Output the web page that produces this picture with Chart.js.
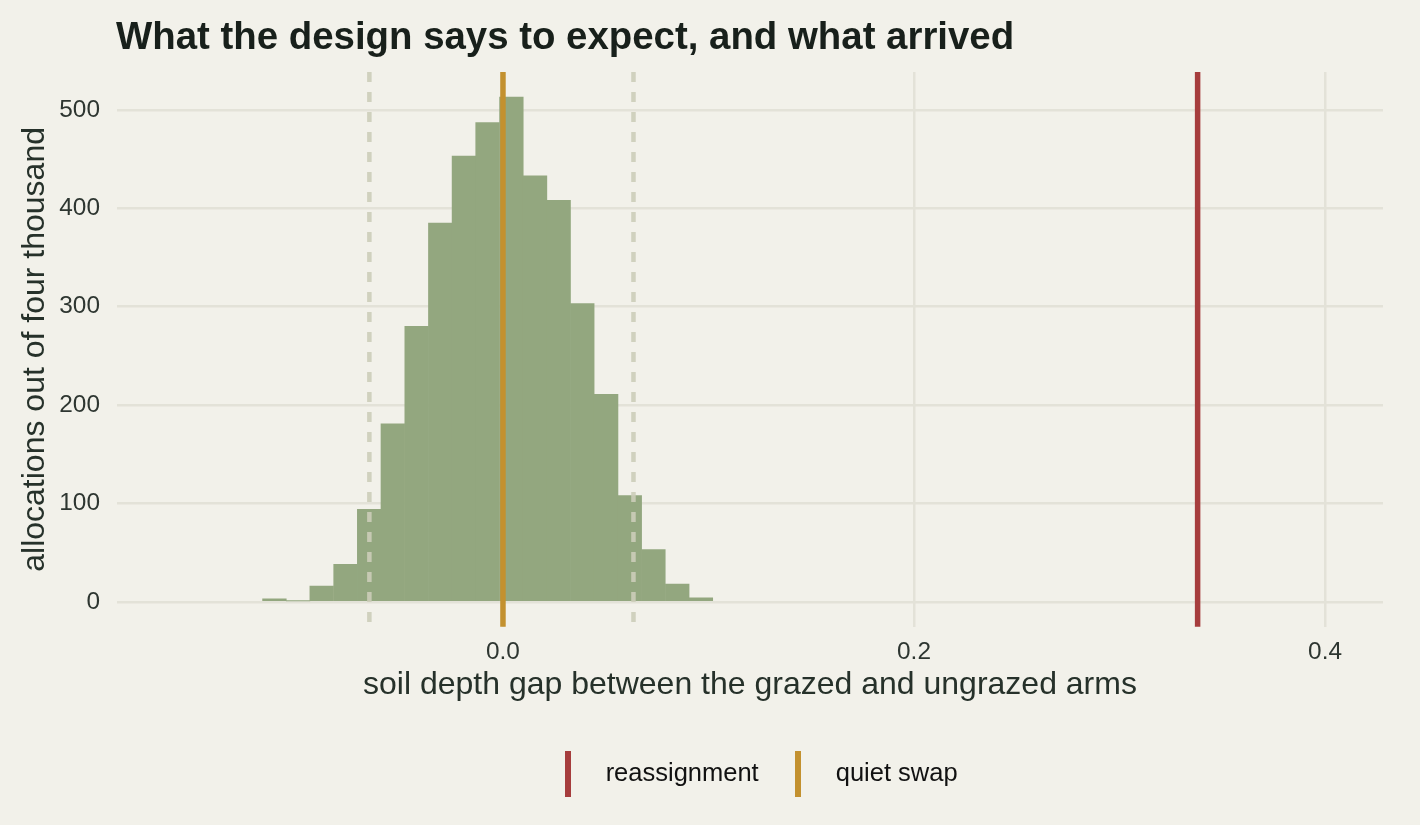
<!DOCTYPE html>
<html>
<head>
<meta charset="utf-8">
<script src="https://cdn.jsdelivr.net/npm/chart.js@4.4.1/dist/chart.umd.min.js"></script>
<style>
  html, body { margin: 0; padding: 0; background: #f2f1ea; }
  #wrap { width: 1420px; height: 825px; }
</style>
</head>
<body>
<div id="wrap"><canvas id="gapChart" width="1420" height="825"></canvas></div>
<script>
// histogram of re-randomised gaps (bin centres and counts)
const binCenters = [-0.1112, -0.0997, -0.0882, -0.0766, -0.0651, -0.0536, -0.0420, -0.0305, -0.0190, -0.0075,
                    0.0041, 0.0156, 0.0271, 0.0386, 0.0502, 0.0617, 0.0732, 0.0848, 0.0963];
const binCounts = [3, 1, 16, 38, 94, 181, 280, 385, 453, 487, 513, 433, 408, 303, 211, 108, 53, 18, 4];

// tick labels
const xTicks = [0, 0.2, 0.4];
const yTicks = [0, 100, 200, 300, 400, 500];

// 95% range of the null draws
const nullInterval = [-0.065, 0.0635];

// observed gaps
const markerNames = ['reassignment', 'quiet swap'];
const markerValues = [0.338, 0.0];
const markerColors = ['#a63d3d', '#c3912f'];

Chart.defaults.font.family = '"Liberation Sans", Arial, Helvetica, sans-serif';

// small vertical bar used as legend key
function keyImage(color) {
  const c = document.createElement('canvas');
  c.width = 6;
  c.height = 46;
  const g = c.getContext('2d');
  g.fillStyle = color;
  g.fillRect(0, 0, 6, 46);
  return c;
}

const refLines = {
  id: 'refLines',
  afterDatasetsDraw(chart) {
    const { ctx, chartArea: a, scales: { x } } = chart;
    ctx.save();
    // dashed null range
    ctx.lineWidth = 4.5;
    ctx.strokeStyle = 'rgba(204, 205, 185, 0.9)';
    ctx.setLineDash([10, 10]);
    nullInterval.forEach(v => {
      const px = x.getPixelForValue(v);
      ctx.beginPath();
      ctx.moveTo(px, a.top);
      ctx.lineTo(px, a.bottom);
      ctx.stroke();
    });
    // observed values
    ctx.setLineDash([]);
    ctx.lineWidth = 5.5;
    markerValues.forEach((v, i) => {
      const px = x.getPixelForValue(v);
      ctx.strokeStyle = markerColors[i];
      ctx.beginPath();
      ctx.moveTo(px, a.top);
      ctx.lineTo(px, a.bottom);
      ctx.stroke();
    });
    ctx.restore();
  },
  afterDraw(chart) {
    const { ctx, chartArea: a } = chart;
    ctx.save();
    ctx.font = 'bold 38.4px "Liberation Sans", Arial, sans-serif';
    ctx.fillStyle = '#18201b';
    ctx.textBaseline = 'alphabetic';
    ctx.fillText('What the design says to expect, and what arrived', a.left - 1, 49);
    ctx.restore();
  }
};

const gridStyle = { color: '#e3e2d8', lineWidth: 2.5, drawTicks: false, offset: false };

new Chart(document.getElementById('gapChart'), {
  type: 'bar',
  data: {
    datasets: [{
      label: 'allocations',
      data: binCenters.map((c, i) => ({ x: c, y: binCounts[i] })),
      backgroundColor: '#93a77f',
      borderWidth: 0,
      barPercentage: 1,
      categoryPercentage: 1
    }]
  },
  options: {
    responsive: false,
    animation: false,
    layout: { padding: { top: 72, right: 37, bottom: 28, left: 0 } },
    plugins: {
      tooltip: { enabled: false },
      legend: {
        position: 'bottom',
        fullSize: false,
        onClick: null,
        labels: {
          usePointStyle: true,
          pointStyleWidth: 50.5,
          padding: 13.75,
          color: '#111',
          font: { size: 25.5 },
          generateLabels: () => markerNames.map((name, i) => ({
            text: name,
            pointStyle: keyImage(markerColors[i]),
            fillStyle: markerColors[i],
            strokeStyle: markerColors[i],
            lineWidth: 0,
            hidden: false,
            fontColor: '#111'
          }))
        }
      }
    },
    scales: {
      x: {
        type: 'linear',
        offset: false,
        min: -0.1878,
        max: 0.4282,
        afterBuildTicks: s => { s.ticks = xTicks.map(v => ({ value: v })); },
        afterFit: s => { s.height = 121; },
        grid: gridStyle,
        border: { display: false },
        ticks: {
          padding: 11,
          color: '#2e3631',
          font: { size: 24.4 },
          callback: v => v.toFixed(1)
        },
        title: {
          display: true,
          text: 'soil depth gap between the grazed and ungrazed arms',
          color: '#26312a',
          font: { size: 32 },
          padding: { top: 0, bottom: 43 }
        }
      },
      y: {
        min: -25.35,
        max: 538.5,
        afterBuildTicks: s => { s.ticks = yTicks.map(v => ({ value: v })); },
        afterFit: s => { s.width = 117; },
        grid: gridStyle,
        border: { display: false },
        ticks: {
          padding: 17,
          color: '#2e3631',
          font: { size: 24.4 }
        },
        title: {
          display: true,
          text: 'allocations out of four thousand',
          color: '#26312a',
          font: { size: 32 },
          padding: { top: 16, bottom: 0 }
        }
      }
    }
  },
  plugins: [refLines]
});
</script>
</body>
</html>
